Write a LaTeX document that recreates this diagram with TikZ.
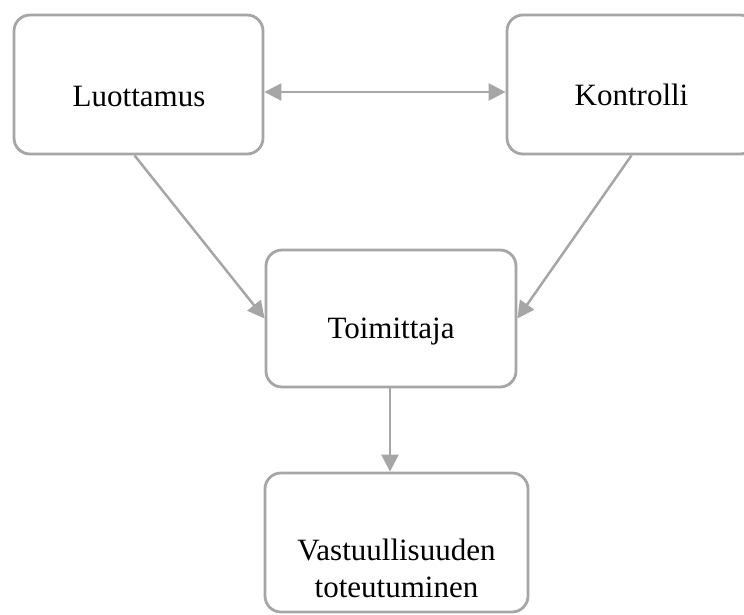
\documentclass[tikz,border=0pt]{standalone}
\usepackage{fontspec}
\setmainfont{Liberation Serif}
\usetikzlibrary{arrows.meta}
\definecolor{edgegray}{HTML}{A6A6A6}
\begin{document}
\begin{tikzpicture}[x=1pt,y=-1pt,
  box/.style={draw=edgegray, line width=2.8pt, rounded corners=16pt, fill=white, inner sep=0pt},
  lbl/.style={font=\fontsize{31}{37}\selectfont, anchor=base, inner sep=0pt, align=center},
  conn/.style={draw=edgegray, line width=2.5pt, -{Triangle[length=17pt,width=17pt]}},
  conn2/.style={draw=edgegray, line width=2.5pt, {Triangle[length=17pt,width=17pt]}-{Triangle[length=17pt,width=17pt]}}]
\clip (0,0) rectangle (744,614);
\fill[white] (0,0) rectangle (744,614);
\node[box, minimum width=249pt, minimum height=139pt] (luot) at (138.5,84.5) {};
\node[box, minimum width=249pt, minimum height=139pt] (kont) at (631.5,84.5) {};
\node[box, minimum width=250pt, minimum height=137pt] (toim) at (391,318.5) {};
\node[box, minimum width=263pt, minimum height=139pt] (vast) at (396.5,542.5) {};
\node[lbl] (luott) at (139,106) {Luottamus};
\node[lbl] (kontt) at (631.5,105) {Kontrolli};
\node[lbl] (toimt) at (391,338) {Toimittaja};
\node[lbl] (vastt) at (396.5,597) {Vastuullisuuden\\toteutuminen};
\draw[conn2] ([yshift=-7.5pt]luot.east) -- ([yshift=-7.5pt]kont.west);
\draw[conn] ([xshift=-4pt]luot.south) -- (toim.west);
\draw[conn] (kont.south) -- (toim.east);
\draw[conn] ([xshift=-1pt]toim.south) -- ([xshift=-1pt]toim.south |- vast.north);
\end{tikzpicture}
\end{document}
